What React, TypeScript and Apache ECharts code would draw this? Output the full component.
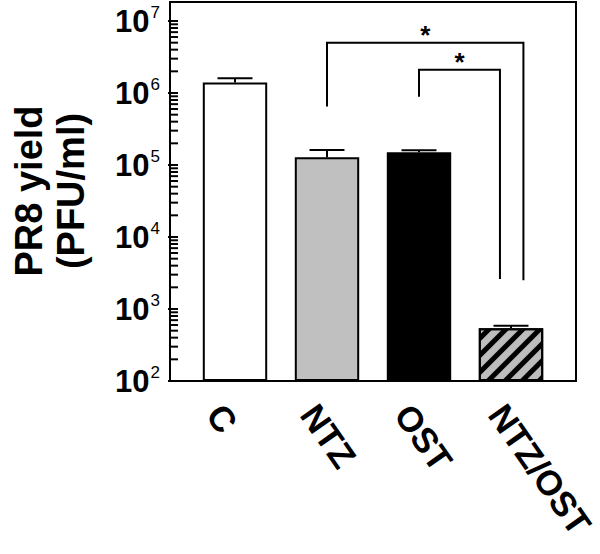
import React, { useEffect, useRef } from 'react';
import * as echarts from 'echarts';

const CATEGORIES = ['C', 'NTZ', 'OST', 'NTZ/OST'];
const YIELD_MEAN = [1.4e6, 1.28e5, 1.5e5, 540];
const YIELD_UPPER = [1.6e6, 1.62e5, 1.6e5, 585];
const DECADES = [1e2, 1e3, 1e4, 1e5, 1e6];
const MINOR_MULTIPLIERS = [2, 3, 4, 5, 6, 7, 8, 9];
const BRACKET_FROM = [1, 2];
const BRACKET_TO = [3, 3];
const BRACKET_LEFT_FOOT = [6.5e5, 8.9e5];
const BRACKET_TOP = [5e6, 2.1e6];
const BRACKET_RIGHT_FOOT = [2.5e3, 2.6e3];
const BRACKET_MARK = ['*', '*'];
const Y_TITLE = 'PR8 yield\n(PFU/ml)';

const FONT = '"Liberation Sans", Arial, Helvetica, sans-serif';

export default function App() {
  const ref = useRef<HTMLDivElement>(null);
  useEffect(() => {
    document.body.style.margin = '0';
    const chart = echarts.init(ref.current!, null, { renderer: 'svg' });
    const FILLS = ['#ffffff', '#c0c0c0', '#000000', '#bdbdbd'];
    const RIGHT_SHIFT = [0.135, -0.12];
    const AXIS_OFFSET = 11;
    const minorTicks: number[][] = [];
    DECADES.forEach((d) => MINOR_MULTIPLIERS.forEach((m) => minorTicks.push([0, d * m])));

    const option: any = {
      animation: false,
      backgroundColor: '#ffffff',
      grid: [
        { left: 170, top: 2, width: 406, height: 379, show: true, borderColor: '#000', borderWidth: 2, backgroundColor: 'transparent' },
        { left: 181, top: 21, width: 376, height: 360 },
        { left: 168, top: 21, width: 376, height: 360 },
      ],
      xAxis: [
        { type: 'value', gridIndex: 0, show: false, min: 0, max: 1 },
        {
          type: 'category',
          gridIndex: 1,
          data: CATEGORIES,
          axisLine: { show: false },
          axisTick: { show: false },
          axisLabel: { show: false },
        },
        {
          type: 'category',
          gridIndex: 2,
          data: CATEGORIES,
          axisLine: { show: false },
          axisTick: { show: false },
          axisLabel: {
            rotate: -55,
            margin: 27,
            color: '#000',
            fontFamily: FONT,
            fontWeight: 'bold',
            fontSize: 35,
          },
        },
      ],
      yAxis: [
        { type: 'value', gridIndex: 0, show: false, min: 0, max: 1 },
        {
          type: 'log',
          gridIndex: 1,
          logBase: 10,
          min: 100,
          max: 1e7,
          startValue: 100,
          offset: AXIS_OFFSET,
          axisLine: { show: false },
          axisTick: { show: true, length: 10, lineStyle: { color: '#000', width: 2 } },
          splitLine: { show: false },
          axisLabel: {
            margin: 18,
            formatter: (v: number) => `{b|10}{s|${Math.round(Math.log10(v))}}`,
            rich: {
              b: { fontFamily: FONT, fontWeight: 'bold', fontSize: 31, color: '#000', lineHeight: 34 },
              s: { fontFamily: FONT, fontWeight: 'normal', fontSize: 17, color: '#000', verticalAlign: 'top', padding: [0, 0, 0, 1] },
            },
          },
          name: Y_TITLE,
          nameLocation: 'middle',
          nameGap: 86,
          nameTextStyle: { fontFamily: FONT, fontWeight: 'bold', fontSize: 38, color: '#000', lineHeight: 42, padding: [0, 0, 0, 20] },
        },
        { type: 'value', gridIndex: 2, show: false, min: 0, max: 1 },
      ],
      series: [
        {
          type: 'bar',
          xAxisIndex: 1,
          yAxisIndex: 1,
          barWidth: '70%',
          z: 2,
          data: YIELD_MEAN.map((v, i) => ({
            value: v,
            itemStyle: {
              color: FILLS[i],
              borderColor: '#000',
              borderWidth: 2,
              decal:
                i === 3
                  ? { symbol: 'rect', symbolSize: 1, color: '#000', dashArrayX: [1, 0], dashArrayY: [5, 7], rotation: -Math.PI / 4 }
                  : undefined,
            },
          })),
        },
        {
          type: 'custom',
          xAxisIndex: 1,
          yAxisIndex: 1,
          z: 3,
          clip: false,
          data: YIELD_MEAN.map((v, i) => [i, v, YIELD_UPPER[i]]),
          renderItem: (params: any, api: any) => {
            const i = api.value(0);
            const top = api.coord([i, api.value(1)]);
            const up = api.coord([i, api.value(2)]);
            const half = (api.size([1, 0])[0] * 0.38) / 2;
            return {
              type: 'group',
              children: [
                { type: 'line', shape: { x1: top[0], y1: top[1], x2: up[0], y2: up[1] }, style: { stroke: '#000', lineWidth: 2 } },
                { type: 'line', shape: { x1: up[0] - half, y1: up[1], x2: up[0] + half, y2: up[1] }, style: { stroke: '#000', lineWidth: 2 } },
              ],
            };
          },
        },
        {
          type: 'custom',
          xAxisIndex: 1,
          yAxisIndex: 1,
          z: 3,
          clip: false,
          data: minorTicks,
          renderItem: (params: any, api: any) => {
            const y = api.coord([0, api.value(1)])[1];
            const x0 = params.coordSys.x - AXIS_OFFSET;
            return { type: 'line', shape: { x1: x0 - 7, y1: y, x2: x0, y2: y }, style: { stroke: '#000', lineWidth: 2 } };
          },
        },
        {
          type: 'custom',
          xAxisIndex: 1,
          yAxisIndex: 1,
          z: 4,
          clip: false,
          data: BRACKET_FROM.map((f, k) => [f, BRACKET_TO[k], BRACKET_LEFT_FOOT[k], BRACKET_TOP[k], BRACKET_RIGHT_FOOT[k], k]),
          renderItem: (params: any, api: any) => {
            const k = params.dataIndex;
            const band = api.size([1, 0])[0];
            const lf = api.coord([api.value(0), api.value(2)]);
            const lt = api.coord([api.value(0), api.value(3)]);
            const rt = api.coord([api.value(1), api.value(3)]);
            const rf = api.coord([api.value(1), api.value(4)]);
            const rx = rt[0] + RIGHT_SHIFT[k] * band;
            return {
              type: 'group',
              children: [
                {
                  type: 'polyline',
                  shape: { points: [[lf[0], lf[1]], [lt[0], lt[1]], [rx, rt[1]], [rx, rf[1]]] },
                  style: { stroke: '#000', lineWidth: 2, fill: 'none' },
                },
                {
                  type: 'text',
                  x: (lt[0] + rx) / 2,
                  y: lt[1] + 5,
                  style: {
                    text: BRACKET_MARK[k],
                    fontFamily: FONT,
                    fontWeight: 'bold',
                    fontSize: 26,
                    fill: '#000',
                    align: 'center',
                    verticalAlign: 'bottom',
                  },
                },
              ],
            };
          },
        },
      ],
    };
    chart.setOption(option);
    return () => chart.dispose();
  }, []);
  return <div ref={ref} style={{ width: 600, height: 554 }} />;
}
